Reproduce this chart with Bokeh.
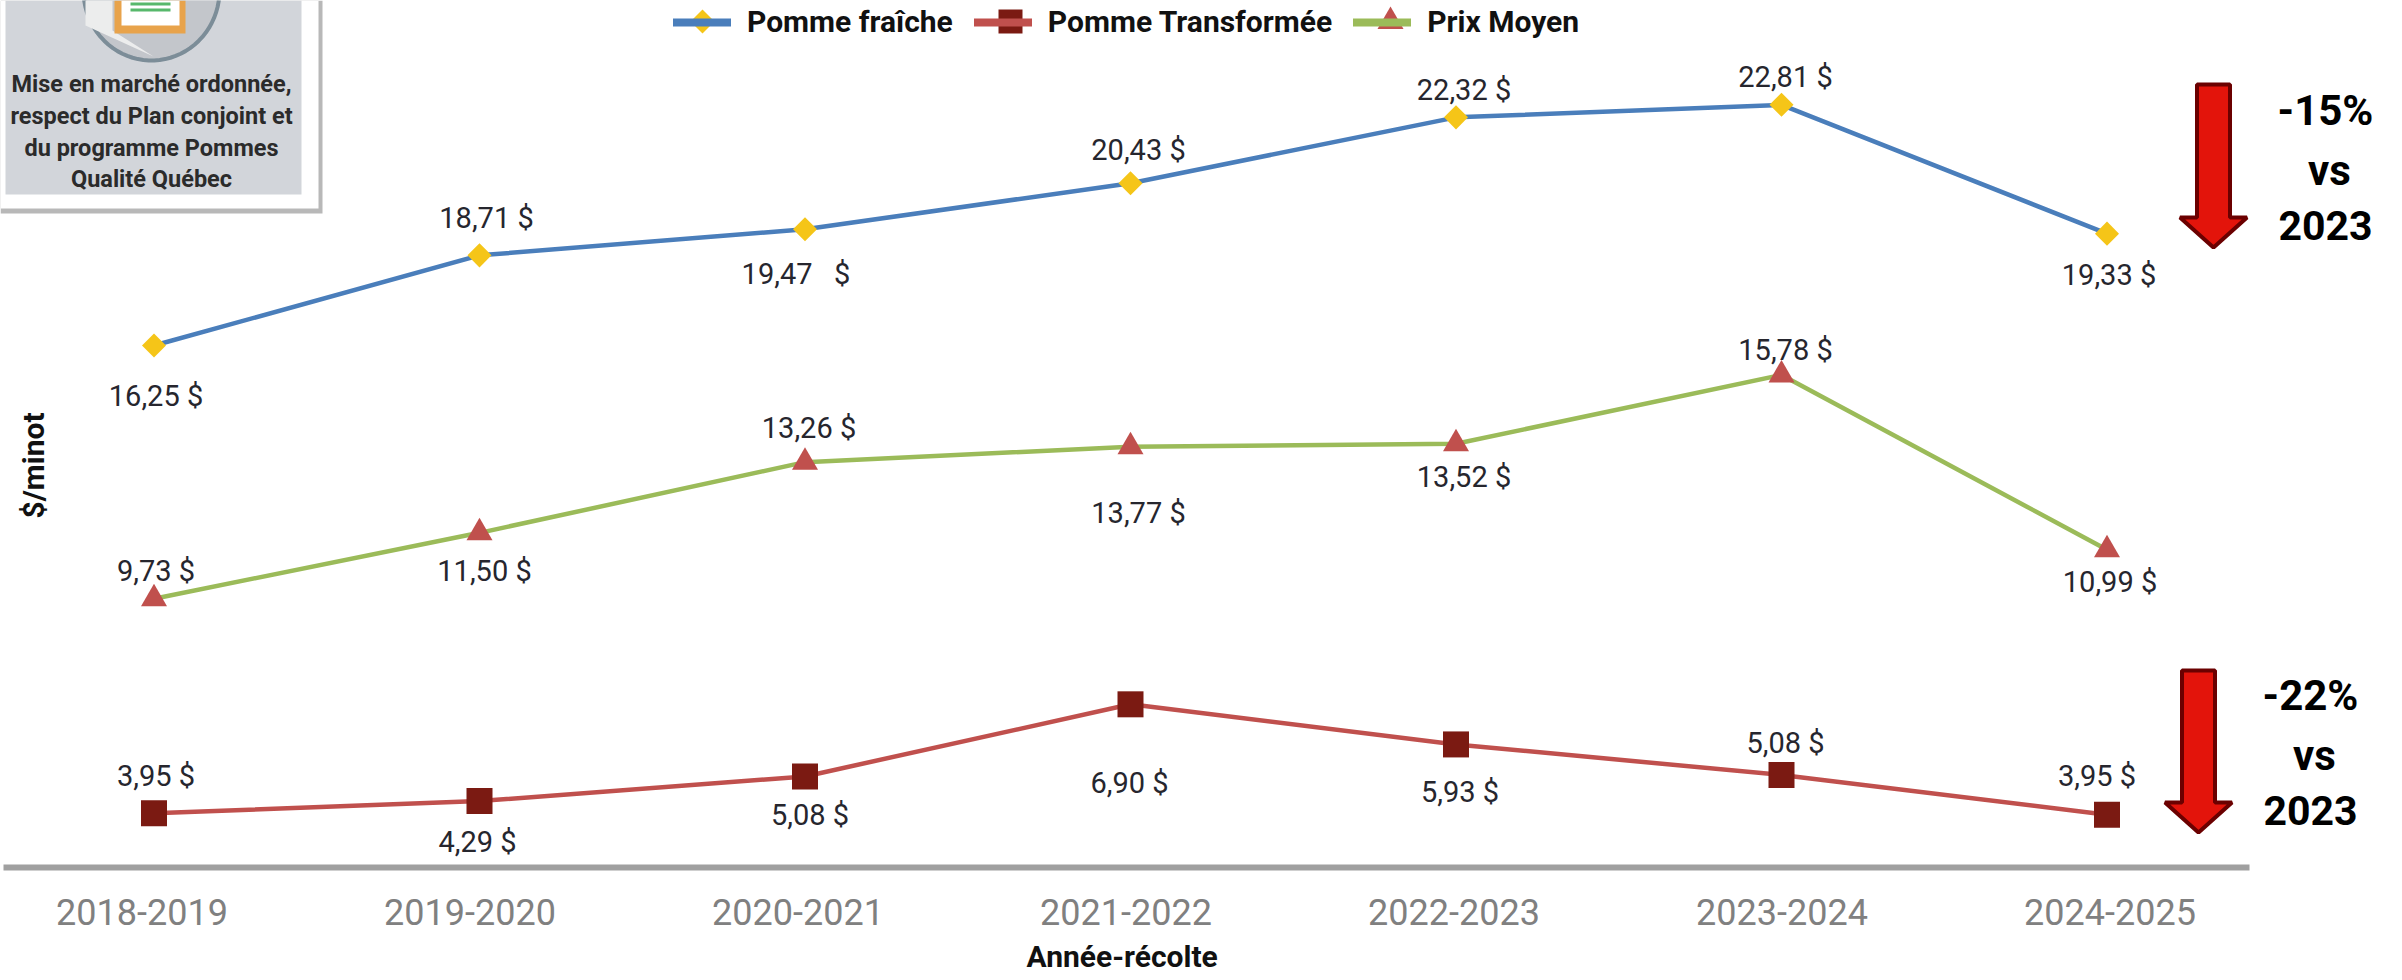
from bokeh.plotting import figure
from bokeh.embed import file_html
from bokeh.resources import INLINE
from bokeh.models import Range1d, FixedTicker, Label, Legend, LegendItem, PolyAnnotation, ColumnDataSource, Title
from bokeh.core.properties import value
import numpy as np

# ---- data -------------------------------------------------------------
saisons = ["2018-2019", "2019-2020", "2020-2021", "2021-2022", "2022-2023", "2023-2024", "2024-2025"]
pomme_fraiche = [16.63, 19.08, 19.79, 21.04, 22.83, 23.17, 19.67]
prix_moyen = [9.75, 11.54, 13.46, 13.88, 13.96, 15.83, 11.08]
pomme_transformee = [3.92, 4.25, 4.92, 6.88, 5.79, 4.96, 3.88]
etiquettes_fraiche = ["16,25 $", "18,71 $", "19,47\u00a0\u00a0 $", "20,43 $", "22,32 $", "22,81 $", "19,33 $"]
etiquettes_moyen = ["9,73 $", "11,50 $", "13,26 $", "13,77 $", "13,52 $", "15,78 $", "10,99 $"]
etiquettes_transformee = ["3,95 $", "4,29 $", "5,08 $", "6,90 $", "5,93 $", "5,08 $", "3,95 $"]

# ---- layout -----------------------------------------------------------
W, H = 2402, 980
F_B = 867                      # page px of the x axis line
AX_L, AX_R = 3, 2249           # page px of the ends of that line
X0, DX = 153.5, 325.5          # page px of first category, spacing
Y0, PPU = 957, 36.8            # page px of value 0, px per dollar
TX0, TDX = 141.5, 328          # page px of tick labels

# label offsets from each point, in px (right, up)
off_f = [(2, -50.5), (7, 37.5), (-9, -44.5), (8, 33.5), (8, 27.5), (4, 27.5), (2, -41.5)]
off_m = [(2, 27.5), (5, -38.5), (4, 34.5), (8, -66.5), (8, -33.5), (4, 24.5), (3, -32.5)]
off_t = [(2, 37.5), (-2, -40.5), (5, -38.5), (-1, -78.5), (4, -47.5), (4, 31.5), (-10, 38.5)]

p = figure(width=W, height=H, output_backend="svg", toolbar_location=None,
           x_range=Range1d((0 - X0) / DX, (W - X0) / DX),
           y_range=Range1d((Y0 - F_B) / PPU, Y0 / PPU),
           min_border_left=0, min_border_right=0, min_border_top=0, min_border_bottom=H - F_B,
           outline_line_color=None, background_fill_color="white", border_fill_color="white")
p.frame_width = W
p.frame_height = F_B
p.grid.visible = False
p.yaxis.visible = False
ax = p.xaxis[0]
tick_pos = [(TX0 + TDX * i - X0) / DX for i in range(len(saisons))]
ax.ticker = FixedTicker(ticks=tick_pos)
ax.major_label_overrides = {t: s for t, s in zip(tick_pos, saisons)}
ax.bounds = ((AX_L - X0) / DX, (AX_R - X0) / DX)
ax.major_tick_line_color = None
ax.minor_tick_line_color = None
ax.axis_line_color = "#a0a0a0"
ax.axis_line_width = 6
ax.major_label_text_font = "Roboto"
ax.major_label_text_font_size = "36px"
ax.major_label_text_color = "#808080"
ax.major_label_standoff = 25

# x title, centred on the axis line rather than on the frame
p.add_layout(Title(text="Année-récolte", align="left", offset=1026, standoff=18,
                   text_font="Roboto", text_font_size="30px", text_font_style="bold",
                   text_color="#111111"), "below")

# page-pixel ranges for decoration
p.extra_x_ranges["px"] = Range1d(0, W)
p.extra_y_ranges["px"] = Range1d(F_B, 0)

def poly(xs, ys, fill, line=None, lw=0, alpha=1.0):
    # PolyAnnotation follows the default ranges: convert page px
    dx = [(a - X0) / DX for a in xs]
    dy = [(Y0 - b) / PPU for b in ys]
    p.add_layout(PolyAnnotation(xs=dx, ys=dy, xs_units="data", ys_units="data",
                                fill_color=fill, fill_alpha=alpha, line_color=line,
                                line_width=lw, line_alpha=1 if line else 0))

def label(x, y, s, size, color="#111111", bold=False, font="Roboto", angle=0):
    p.add_layout(Label(x=x, y=F_B - y, text=s, x_units="screen", y_units="screen",
                       text_font=font, text_font_size=f"{size}px", text_color=color,
                       text_font_style="bold" if bold else "normal",
                       text_align="center", text_baseline="middle", angle=angle))

# series
x = list(range(len(saisons)))
series = [
    ("Pomme fraîche", pomme_fraiche, etiquettes_fraiche, off_f, "#4a7ebb", "square", 17, np.pi / 4, "#f5c518", 702),
    ("Pomme Transformée", pomme_transformee, etiquettes_transformee, off_t, "#c0504d", "square", 26, 0, "#7b1a12", 1010),
    ("Prix Moyen", prix_moyen, etiquettes_moyen, off_m, "#9bbb59", "triangle", 26, 0, "#c0504d", 1390),
]
items = []
for name, ys, labs, off, col, mk, size, ang, mcol, lx in series:
    src = ColumnDataSource(dict(x=x, y=ys, t=labs, ox=[o[0] for o in off], oy=[-o[1] for o in off]))
    p.line("x", "y", source=src, line_color=col, line_width=4.5)
    p.scatter("x", "y", source=src, marker=mk, size=size, angle=ang, fill_color=mcol, line_color=None)
    p.text("x", "y", text="t", source=src, x_offset="ox", y_offset="oy",
           text_font=value("Roboto"), text_font_size="29px", text_color="#26262e",
           text_align="center", text_baseline="middle")
    key = p.line([np.nan], [np.nan], line_color=col, line_width=8, line_cap="round")
    items.append(LegendItem(label=name, renderers=[key]))
    p.scatter([lx], [21], marker=mk, size=size if mk != "square" or ang else 24, angle=ang, fill_color=mcol,
              line_color=None, x_range_name="px", y_range_name="px", level="overlay")

leg = Legend(items=items, orientation="horizontal", location=(673, F_B - 39), margin=0, padding=0, spacing=21,
             glyph_width=58, glyph_height=30, label_standoff=16, border_line_color=None,
             background_fill_alpha=0, label_text_font="Roboto", label_text_font_size="30px",
             label_text_font_style="bold", label_text_color="#111111", label_height=30)
p.add_layout(leg)

# y title
label(33, 465, "$/minot", 30, bold=True, angle=np.pi / 2)

# arrows
def arrow(xc, top, base, tip, half_s=16.5, half_h=33.5):
    poly([xc - half_s, xc + half_s, xc + half_s, xc + half_h, xc, xc - half_h, xc - half_s],
         [top, top, base, base, tip, base, base], "#e3140b", "#6b0000", 4)
arrow(2213, 84, 217, 247)
arrow(2198, 670, 802, 832)
for xc, ys, pct in [(2325, (110, 170, 225), "-15%"), (2310, (695, 755, 810), "-22%")]:
    label(xc, ys[0], pct, 42, "#000000", True)
    label(xc + 4, ys[1], "vs", 42, "#000000", True)
    label(xc, ys[2], "2023", 41, "#000000", True)

# card
poly([0, 322, 322, 0], [0, 0, 213, 213], "#9a9a9a", alpha=0.7)
poly([0, 318, 318, 0], [0, 0, 208, 208], "#ffffff")
poly([5, 301, 301, 5], [0, 0, 194, 194], "#d2d5da")
# shield
t = np.linspace(0, np.pi, 40)
sx = 151 + 68 * np.cos(t)
sy = -10 + 70 * np.sin(t)
poly(sx, sy, "#c3c6cb", "#7c8d98", 4)
poly([85, 112, 112, 153, 85], [0, 0, 30, 56, 25], "#eceded")
poly([114, 185, 185, 114], [0, 0, 33, 33], "#e8a34b")
poly([121, 179, 179, 121], [0, 0, 25, 25], "#ffffff")
poly([130, 170, 170, 130], [2, 2, 5, 5], "#57b86b")
poly([130, 170, 170, 130], [8, 8, 11, 11], "#57b86b")
for y, s in zip((83, 115, 147, 178), ("Mise en marché ordonnée,", "respect du Plan conjoint et", "du programme Pommes", "Qualité Québec")):
    label(151, y, s, 23.5, "#2b2b2b", True)

open("out.html", "w").write(file_html(p, INLINE))
